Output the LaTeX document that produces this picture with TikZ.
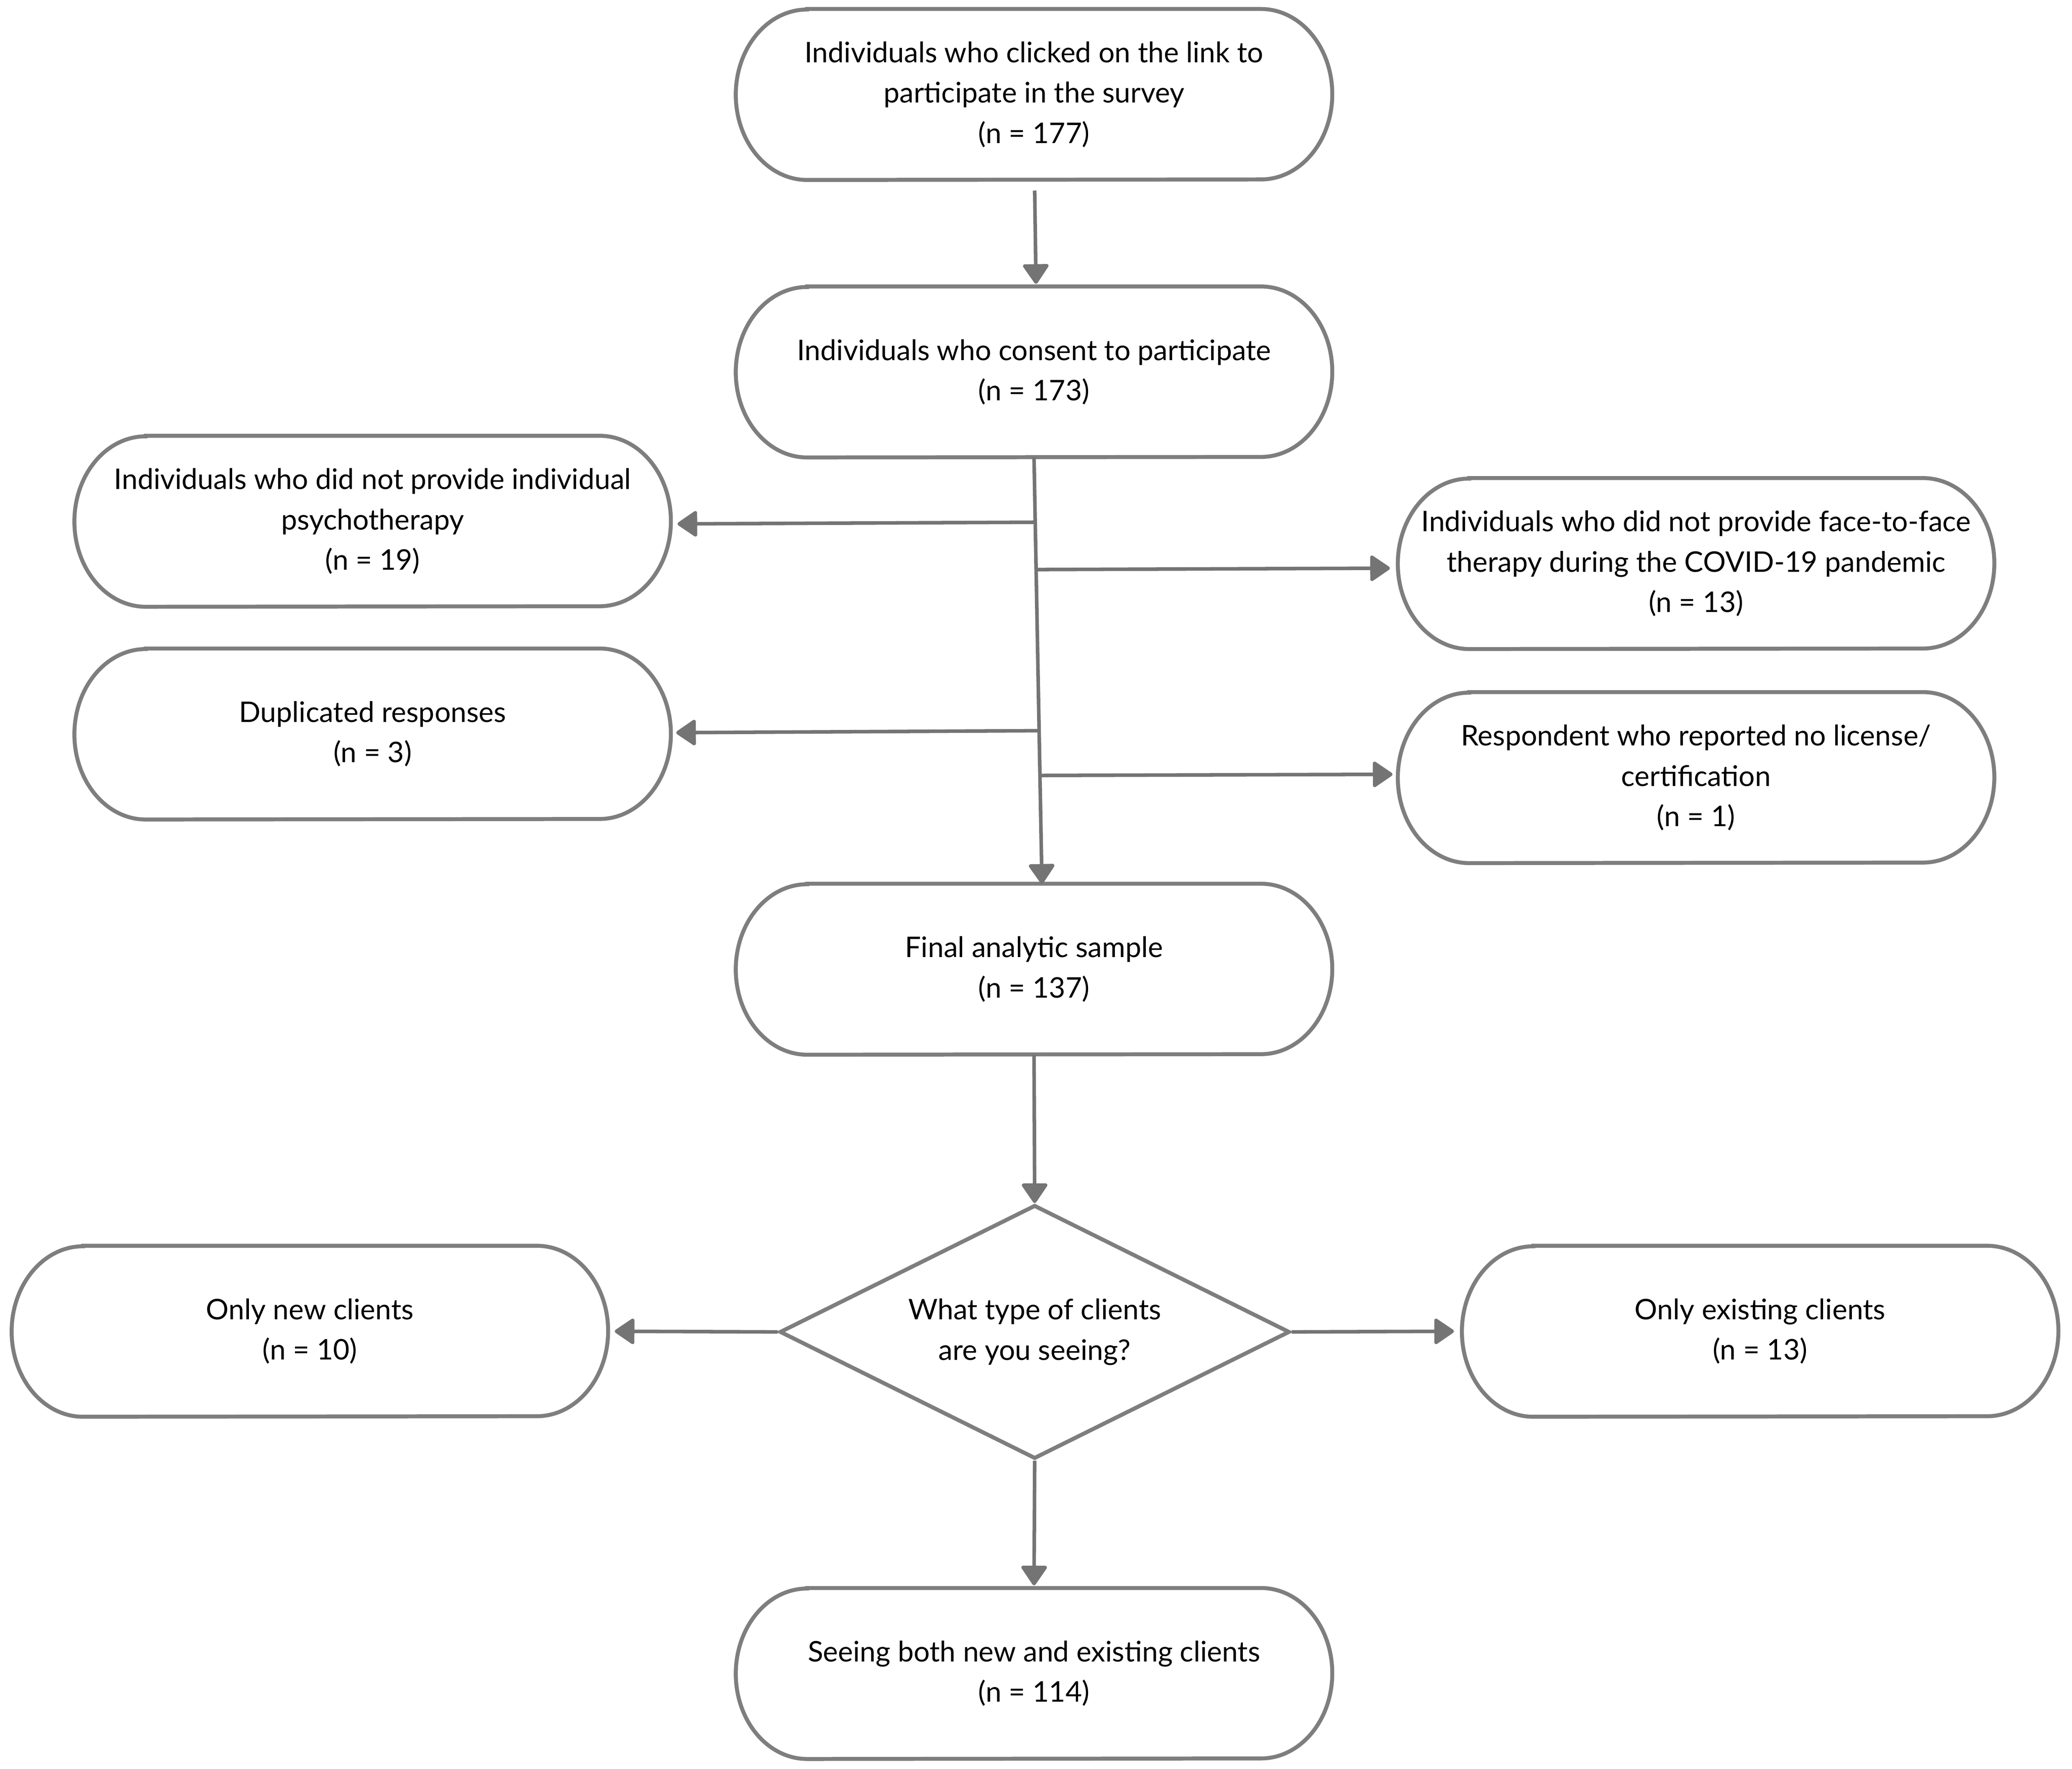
\documentclass[tikz,border=0pt]{standalone}
\usepackage{fontspec}
\setmainfont{Lato}
\usetikzlibrary{shapes.geometric,arrows.meta,calc}
\definecolor{boxgray}{HTML}{7E7E7E}
\definecolor{arrgray}{HTML}{747474}
\begin{document}
\begin{tikzpicture}[x=1pt,y=-1pt,
  box/.style={minimum width=451pt, minimum height=129pt, inner sep=0pt, align=center,
    font=\fontsize{21.5}{30.5}\selectfont,
    execute at begin node={\rule{0pt}{20pt}}},
  outline/.style={draw=boxgray, line width=3pt},
  dia/.style={diamond, draw=boxgray, line width=3pt, minimum width=386pt,
    minimum height=192pt, inner sep=0pt, shape aspect=2, align=center,
    font=\fontsize{21.5}{30.5}\selectfont,
    execute at begin node={\rule{0pt}{20pt}}},
  arr/.style={draw=arrgray, line width=2.7pt,
    -{Triangle[length=16pt,width=21pt,round]}},
  ]
\useasboundingbox[fill=white] (0,0) rectangle (1568,1338.5);

\node[box] (top) at (782.5,71.5) {Individuals who clicked on the link to\\participate in the survey\\(n = 177)};
\node[box] (cons) at (782.5,281.5) {Individuals who consent to participate\\(n = 173)};
\node[box] (l1) at (282,394.5) {Individuals who did not provide individual\\psychotherapy\\(n = 19)};
\node[box] (r1) at (1283.5,426.5) {Individuals who did not provide face-to-face\\therapy during the COVID-19 pandemic\\(n = 13)};
\node[box] (l2) at (282,555.5) {Duplicated responses\\(n = 3)};
\node[box] (r2) at (1283.5,588.5) {Respondent who reported no license/\\certification\\(n = 1)};
\node[box] (final) at (782.5,733.5) {Final analytic sample\\(n = 137)};
\node[dia] (q) at (783,1008) {What type of clients\\are you seeing?};
\node[box] (new) at (234.5,1007.5) {Only new clients\\(n = 10)};
\node[box] (exist) at (1332,1007.5) {Only existing clients\\(n = 13)};
\node[box] (both) at (782.5,1266.5) {Seeing both new and existing clients\\(n = 114)};

% capsule outlines with elliptical ends
\foreach \n in {top,cons,l1,r1,l2,r2,final,new,exist,both}{
  \draw[outline] ($(\n.north west)+(54,0)$) -- ($(\n.north east)+(-54,0)$)
    arc[start angle=-90, end angle=90, x radius=54, y radius=64.5]
    -- ($(\n.south west)+(54,0)$)
    arc[start angle=90, end angle=270, x radius=54, y radius=64.5] -- cycle;
}

% top -> consent
\coordinate (s0) at ($(top.south)+(0.5,8)$);
\draw[arr] (s0) -- ($(cons.north)+(1.5,-2)$);

% trunk
\coordinate (tB) at ($(final.north)+(6,0)$);
\draw[arr] (cons.south) -- (tB);
\coordinate (b1) at ($(cons.south)!0.152!(tB)$);
\coordinate (b2) at ($(cons.south)!0.263!(tB)$);
\coordinate (b3) at ($(cons.south)!0.641!(tB)$);
\coordinate (b4) at ($(cons.south)!0.746!(tB)$);
\draw[arr, shorten >=5pt] (b1) -- ($(l1.east)+(0,2)$);
\draw[arr, shorten >=6pt] (b2) -- ($(r1.west)+(0,3.5)$);
\draw[arr, shorten >=4pt] (b3) -- ($(l2.east)+(0,-1)$);
\draw[arr, shorten >=4pt] (b4) -- ($(r2.west)+(0,-2.5)$);

% final -> diamond
\draw[arr] (final.south) -- (q.north);
\draw[arr, shorten >=5pt] (q.west) -- (new.east);
\draw[arr, shorten >=6pt] (q.east) -- (exist.west);
\draw[arr, shorten >=2pt] (q.south) -- (both.north);
\end{tikzpicture}
\end{document}
